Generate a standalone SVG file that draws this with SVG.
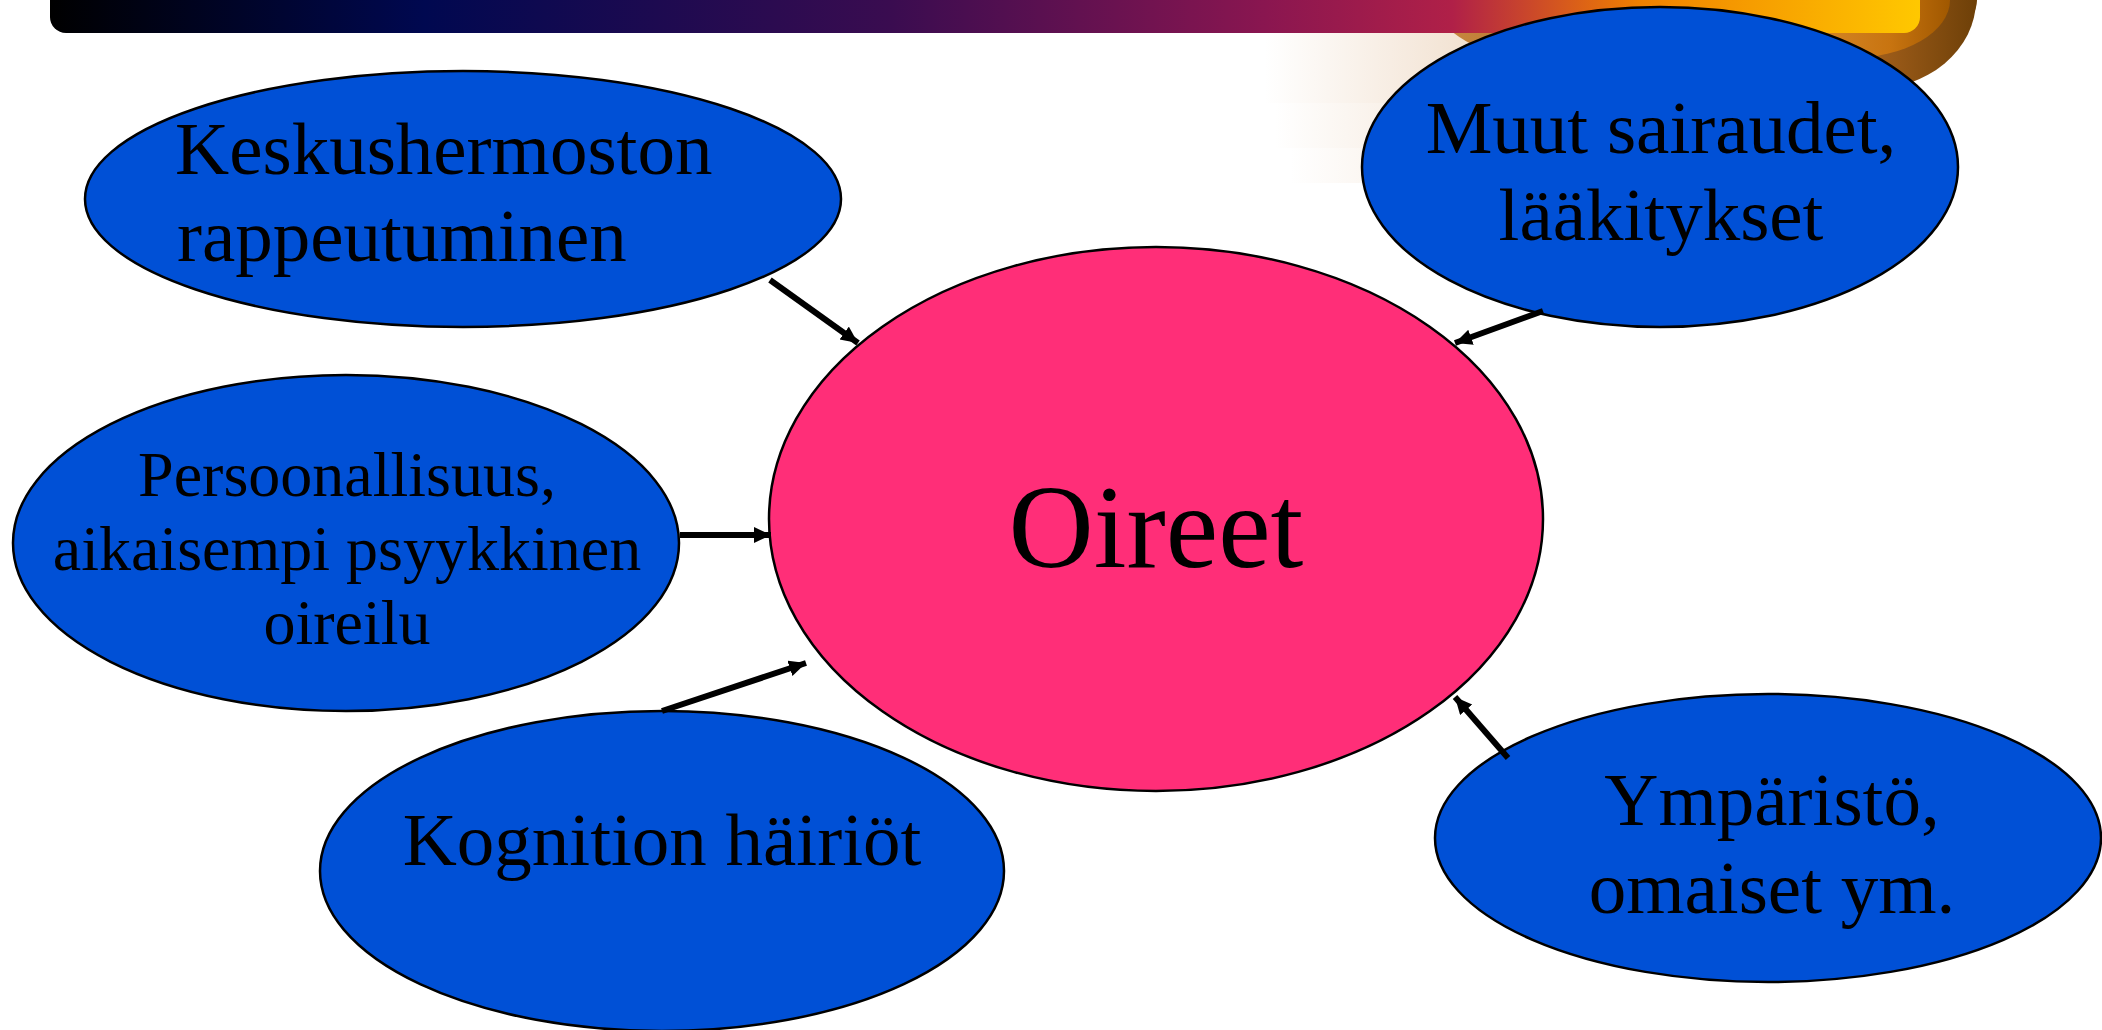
<svg xmlns="http://www.w3.org/2000/svg" width="2102" height="1030" viewBox="0 0 2102 1030">
<defs>
<linearGradient id="barGrad" x1="0" y1="0" x2="1" y2="0">
<stop offset="0" stop-color="#000000"/>
<stop offset="0.2" stop-color="#000850"/>
<stop offset="0.45" stop-color="#3a0c50"/>
<stop offset="0.65" stop-color="#8a1650"/>
<stop offset="0.75" stop-color="#b02048"/>
<stop offset="0.85" stop-color="#f08000"/>
<stop offset="1" stop-color="#ffc800"/>
</linearGradient>
<linearGradient id="brownGrad" x1="0" y1="0" x2="1" y2="0">
<stop offset="0" stop-color="#c88840"/>
<stop offset="0.6" stop-color="#9a5a18"/>
<stop offset="1" stop-color="#6e4008"/>
</linearGradient>
<linearGradient id="orangeGrad" x1="0" y1="0" x2="1" y2="0">
<stop offset="0" stop-color="#e0963c"/>
<stop offset="0.7" stop-color="#c87410"/>
<stop offset="1" stop-color="#a05800"/>
</linearGradient>
<linearGradient id="beigeGrad" x1="0" y1="0" x2="1" y2="0">
<stop offset="0" stop-color="#ecd4bc" stop-opacity="0"/>
<stop offset="1" stop-color="#ecd4bc" stop-opacity="1"/>
</linearGradient>
<marker id="arrow" markerUnits="userSpaceOnUse" markerWidth="20" markerHeight="18" refX="17" refY="8" orient="auto">
<path d="M0,0 L17,8 L0,16 Z" fill="#000"/>
</marker>
<style>
.node { fill: #0050d6; stroke: #000; stroke-width: 2.5; }
.center { fill: #ff2e78; stroke: #000; stroke-width: 2.5; }
.lbl { font-family: "Liberation Serif", "Times New Roman", serif; font-size: 75px; fill: #000; text-anchor: middle; }
.lbl-s { font-family: "Liberation Serif", "Times New Roman", serif; font-size: 64px; fill: #000; text-anchor: middle; }
.conn { stroke: #000; stroke-width: 6; fill: none; marker-end: url(#arrow); }
</style>
</defs>

<g id="background">
<rect x="1265" y="33" width="300" height="70" fill="url(#beigeGrad)"/>
<rect x="1275" y="103" width="290" height="45" fill="url(#beigeGrad)" opacity="0.85"/>
<rect x="1290" y="148" width="275" height="35" fill="url(#beigeGrad)" opacity="0.7"/>
<ellipse cx="1705" cy="0" rx="272" ry="86" fill="url(#brownGrad)"/>
<ellipse cx="1868" cy="0" rx="108" ry="90" fill="url(#brownGrad)"/>
<ellipse cx="1850" cy="0" rx="100" ry="58" fill="url(#orangeGrad)"/>
<rect x="50" y="-20" width="1870" height="53" rx="16" ry="16" fill="url(#barGrad)"/>
</g>

<g id="node-oireet">
<ellipse class="center" cx="1156" cy="519" rx="387" ry="272"/>
<text class="lbl" x="1156" y="567" style="font-size:118px">Oireet</text>
</g>

<g id="node-keskus">
<ellipse class="node" cx="463" cy="199" rx="378" ry="128"/>
<text class="lbl" x="175" y="174" style="text-anchor:start">Keskushermoston</text>
<text class="lbl" x="177" y="261" style="text-anchor:start">rappeutuminen</text>
</g>

<g id="node-muut">
<ellipse class="node" cx="1660" cy="167" rx="298" ry="160"/>
<text class="lbl" x="1661" y="153">Muut sairaudet,</text>
<text class="lbl" x="1661" y="240">lääkitykset</text>
</g>

<g id="node-persoonallisuus">
<ellipse class="node" cx="346" cy="543" rx="333" ry="168"/>
<text class="lbl-s" x="347" y="496">Persoonallisuus,</text>
<text class="lbl-s" x="347" y="570">aikaisempi psyykkinen</text>
<text class="lbl-s" x="347" y="644">oireilu</text>
</g>

<g id="node-kognition">
<ellipse class="node" cx="662" cy="871" rx="342" ry="160"/>
<text class="lbl" x="662" y="865">Kognition häiriöt</text>
</g>

<g id="node-ymparisto">
<ellipse class="node" cx="1768" cy="838" rx="333" ry="144"/>
<text class="lbl" x="1772" y="825">Ympäristö,</text>
<text class="lbl" x="1772" y="913">omaiset ym.</text>
</g>

<g id="connectors">
<line class="conn" x1="770" y1="280" x2="858" y2="343"/>
<line class="conn" x1="1543" y1="311" x2="1455" y2="343"/>
<line class="conn" x1="680" y1="535" x2="771" y2="535"/>
<line class="conn" x1="662" y1="711" x2="806" y2="663"/>
<line class="conn" x1="1508" y1="758" x2="1455" y2="697"/>
</g>
</svg>
